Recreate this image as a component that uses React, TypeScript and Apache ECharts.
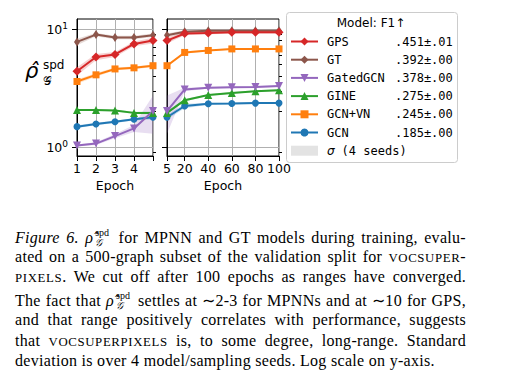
import React, { useEffect, useRef } from 'react';
import * as echarts from 'echarts';

// ---------- data ----------
const MODELS = ['GPS', 'GT', 'GatedGCN', 'GINE', 'GCN+VN', 'GCN'];
const SCORES = ['.451±.01', '.392±.00', '.378±.00', '.275±.00', '.245±.00', '.185±.00'];
const BAND_NAME = 'σ (4 seeds)';

const EPOCHS_EARLY = [1, 2, 3, 4, 5];
const EPOCHS_LATE = [5, 20, 40, 60, 80, 100];

const GPS_EARLY = [4.4, 5.8, 6.1, 7.5, 8.0];
const GPS_LATE = [8.0, 9.2, 9.3, 9.4, 9.4, 9.4];
const GT_EARLY = [7.8, 9.0, 8.5, 8.5, 8.9];
const GT_LATE = [8.9, 9.5, 9.7, 9.7, 9.7, 9.7];
const GATED_EARLY = [1.03, 1.07, 1.24, 1.44, 2.02];
const GATED_LATE = [2.02, 3.08, 3.18, 3.22, 3.24, 3.29];
const GINE_EARLY = [2.06, 2.06, 2.04, 1.95, 1.95];
const GINE_LATE = [1.95, 2.5, 2.76, 2.88, 2.98, 3.04];
const GCNVN_EARLY = [3.6, 4.1, 4.6, 4.7, 4.9];
const GCNVN_LATE = [4.9, 6.35, 6.6, 6.8, 6.8, 6.8];
const GCN_EARLY = [1.49, 1.57, 1.64, 1.72, 1.79];
const GCN_LATE = [1.79, 2.23, 2.33, 2.34, 2.36, 2.36];

const GPS_SD_EARLY = [0.35, 0.35, 0.3, 0.35, 0.45];
const GPS_SD_LATE = [0.45, 0.3, 0.25, 0.25, 0.25, 0.25];
const GT_SD_EARLY = [0.5, 0.3, 0.3, 0.3, 0.3];
const GT_SD_LATE = [0.3, 0.3, 0.2, 0.2, 0.2, 0.2];
const GATED_SD_EARLY = [0.02, 0.03, 0.05, 0.1, 0.72];
const GATED_SD_LATE = [0.72, 0.1, 0.06, 0.05, 0.05, 0.05];
const GINE_SD_EARLY = [0.04, 0.04, 0.04, 0.04, 0.05];
const GINE_SD_LATE = [0.05, 0.06, 0.05, 0.05, 0.05, 0.05];
const GCNVN_SD_EARLY = [0.15, 0.15, 0.12, 0.12, 0.12];
const GCNVN_SD_LATE = [0.12, 0.15, 0.1, 0.1, 0.1, 0.1];
const GCN_SD_EARLY = [0.04, 0.04, 0.04, 0.04, 0.08];
const GCN_SD_LATE = [0.08, 0.1, 0.04, 0.04, 0.04, 0.04];

const MEANS_EARLY = [GPS_EARLY, GT_EARLY, GATED_EARLY, GINE_EARLY, GCNVN_EARLY, GCN_EARLY];
const MEANS_LATE = [GPS_LATE, GT_LATE, GATED_LATE, GINE_LATE, GCNVN_LATE, GCN_LATE];
const SDS_EARLY = [GPS_SD_EARLY, GT_SD_EARLY, GATED_SD_EARLY, GINE_SD_EARLY, GCNVN_SD_EARLY, GCN_SD_EARLY];
const SDS_LATE = [GPS_SD_LATE, GT_SD_LATE, GATED_SD_LATE, GINE_SD_LATE, GCNVN_SD_LATE, GCN_SD_LATE];

const Y_MIN = 0.84;
const Y_MAX = 12.2;
const Y_MAJOR = [1, 10];
const Y_MINOR = [0.9, 2, 3, 4, 5, 6, 7, 8, 9];
const X_TICKS_EARLY = [1, 2, 3, 4, 5];
const X_LABELS_EARLY = [1, 2, 3, 4];
const X_TICKS_LATE = [5, 20, 40, 60, 80, 100];

// ---------- styles ----------
const COLORS = ['#d62728', '#8c564b', '#9467bd', '#2ca02c', '#ff7f0e', '#1f77b4'];
const SYMBOLS: any[] = [
  { symbol: 'diamond', size: [9, 9], rotate: 0 },
  { symbol: 'diamond', size: [6, 9], rotate: 0 },
  { symbol: 'triangle', size: [8, 8], rotate: 180 },
  { symbol: 'triangle', size: [8, 8], rotate: 0 },
  { symbol: 'rect', size: [7, 7], rotate: 0 },
  { symbol: 'circle', size: [7, 7], rotate: 0 },
];
const SANS = "'DejaVu Sans', sans-serif";
const MONO = "'DejaVu Sans Mono', monospace";
const SERIF = "'Liberation Serif', 'Times New Roman', serif";

function hexAlpha(hex: string, a: number) {
  const r = parseInt(hex.slice(1, 3), 16);
  const g = parseInt(hex.slice(3, 5), 16);
  const b = parseInt(hex.slice(5, 7), 16);
  return `rgba(${r},${g},${b},${a})`;
}

function buildOption() {
  const xCommon = (ticks: number[], labels: number[]) => ({
    type: 'value',
    axisLine: { show: true, lineStyle: { color: '#000', width: 1 } },
    axisTick: { show: true, length: 5, customValues: ticks, lineStyle: { color: '#000', width: 1 } },
    axisLabel: { customValues: labels, fontSize: 12.5, color: '#000', fontFamily: SANS, margin: 6 },
    splitLine: { show: true, lineStyle: { color: '#b0b0b0', width: 1 } },
    name: 'Epoch',
    nameLocation: 'middle',
    nameGap: 23,
    nameTextStyle: { fontSize: 12.5, color: '#000', fontFamily: SANS },
  });
  const yMain = (grid: number, showLabels: boolean) => ({
    gridIndex: grid,
    type: 'log',
    logBase: 10,
    min: Y_MIN,
    max: Y_MAX,
    axisLine: { show: true, lineStyle: { color: '#000', width: 1 } },
    axisTick: { show: true, length: 5, customValues: Y_MAJOR, lineStyle: { color: '#000', width: 1 } },
    axisLabel: {
      show: showLabels,
      customValues: Y_MAJOR,
      margin: 9,
      formatter: (v: number) => `{b|10}{s|${Math.round(Math.log10(v))}}`,
      rich: {
        b: { fontSize: 12.5, fontFamily: SANS, color: '#000', lineHeight: 15 },
        s: { fontSize: 9, fontFamily: SANS, color: '#000', lineHeight: 10, verticalAlign: 'top' },
      },
    },
    splitLine: { show: true, lineStyle: { color: '#b0b0b0', width: 1 } },
  });
  const yMinor = (grid: number) => ({
    gridIndex: grid,
    type: 'log',
    logBase: 10,
    min: Y_MIN,
    max: Y_MAX,
    axisLine: { show: false },
    axisTick: { show: true, length: 3, customValues: Y_MINOR, lineStyle: { color: '#000', width: 1 } },
    axisLabel: { show: false },
    splitLine: { show: false },
  });

  const series: any[] = [];
  const panels = [
    { xs: EPOCHS_EARLY, means: MEANS_EARLY, sds: SDS_EARLY, xi: 0, yi: 0 },
    { xs: EPOCHS_LATE, means: MEANS_LATE, sds: SDS_LATE, xi: 1, yi: 2 },
  ];
  panels.forEach((p) => {
    series.push({
      name: BAND_NAME,
      type: 'custom',
      xAxisIndex: p.xi,
      yAxisIndex: p.yi,
      z: 1,
      silent: true,
      clip: true,
      itemStyle: { color: '#e0e0e0' },
      encode: { x: 0, y: 1 },
      data: MODELS.map((_, i) => [p.xs[0], 1, i]),
      renderItem: (params: any, api: any) => {
        const i = api.value(2);
        const m = p.means[i];
        const s = p.sds[i];
        const up = p.xs.map((x, k) => api.coord([x, m[k] + s[k]]));
        const lo = p.xs.map((x, k) => api.coord([x, Math.max(0.5, m[k] - s[k])])).reverse();
        return {
          type: 'polygon',
          shape: { points: up.concat(lo) },
          style: { fill: hexAlpha(COLORS[i], 0.22), stroke: 'none' },
        };
      },
    });
    for (let i = MODELS.length - 1; i >= 0; i--) {
      series.push({
        name: MODELS[i],
        type: 'line',
        xAxisIndex: p.xi,
        yAxisIndex: p.yi,
        z: 3,
        data: p.xs.map((x, k) => [x, p.means[i][k]]),
        symbol: SYMBOLS[i].symbol,
        symbolSize: SYMBOLS[i].size,
        symbolRotate: SYMBOLS[i].rotate,
        showSymbol: true,
        lineStyle: { color: COLORS[i], width: 2 },
        itemStyle: { color: COLORS[i] },
        emphasis: { disabled: true },
      });
    }
  });

  return {
    animation: false,
    grid: [
      { left: 77, top: 19, width: 76, height: 137, show: true, borderColor: '#000', borderWidth: 1, backgroundColor: 'transparent' },
      { left: 167, top: 19, width: 112, height: 137, show: true, borderColor: '#000', borderWidth: 1, backgroundColor: 'transparent' },
    ],
    xAxis: [
      { gridIndex: 0, min: 1, max: 5, ...xCommon(X_TICKS_EARLY, X_LABELS_EARLY) },
      { gridIndex: 1, min: 5, max: 100, ...xCommon(X_TICKS_LATE, X_TICKS_LATE) },
    ],
    yAxis: [yMain(0, true), yMinor(0), yMain(1, false), yMinor(1)],
    legend: {
      orient: 'vertical',
      left: 290,
      top: 35.5,
      padding: 0,
      itemWidth: 27,
      itemHeight: 10,
      itemGap: 6.2,
      selectedMode: false,
      data: [
        ...MODELS,
        { name: BAND_NAME, icon: 'rect', itemStyle: { color: '#e3e3e3' } },
      ],
      formatter: (name: string) => {
        const i = MODELS.indexOf(name);
        if (i < 0) return `{g| }{sg|σ}{gap| }{v|(4 seeds)}`;
        return `{g| }{n|${name}}{v|${SCORES[i]}}`;
      },
      textStyle: {
        fontFamily: MONO,
        fontSize: 12,
        color: '#000',
        lineHeight: 12,
        rich: {
          g: { width: 4, fontSize: 12, lineHeight: 12 },
          n: { width: 68, fontFamily: MONO, fontSize: 12, color: '#000', lineHeight: 12 },
          v: { fontFamily: MONO, fontSize: 12, color: '#000', lineHeight: 12 },
          sg: { fontFamily: SANS, fontStyle: 'italic', fontSize: 12, color: '#000', lineHeight: 12 },
          gap: { width: 7, fontSize: 12, lineHeight: 12 },
        },
      },
    },
    graphic: [
      {
        type: 'rect',
        z: 0,
        silent: true,
        shape: { x: 286.5, y: 12.5, width: 171, height: 150, r: 3 },
        style: { fill: 'rgba(255,255,255,0.8)', stroke: '#cccccc', lineWidth: 1 },
      },
      {
        type: 'text',
        z: 5,
        x: 371,
        y: 23,
        style: { text: 'Model: F1↑', fontFamily: SANS, fontSize: 12, fill: '#000', align: 'center', verticalAlign: 'middle' },
      },
      {
        type: 'text',
        x: 25,
        y: 71,
        style: { text: 'ρ̂', fontFamily: SANS, fontStyle: 'italic', fontSize: 21, fill: '#000', verticalAlign: 'middle' },
      },
      {
        type: 'text',
        x: 43,
        y: 64.5,
        style: { text: 'spd', fontFamily: SANS, fontSize: 12, fill: '#000', verticalAlign: 'middle' },
      },
      {
        type: 'text',
        x: 43,
        y: 81,
        style: { text: '𝒢', fontFamily: SANS, fontSize: 12, fill: '#000', verticalAlign: 'middle' },
      },
    ],
    series,
  };
}

const SC = ({ children }: { children: any }) => (
  <span style={{ fontSize: '0.8em', letterSpacing: '0.05em' }}>{children}</span>
);

const Rho = () => (
  <span style={{ whiteSpace: 'nowrap' }}>
    <span style={{ fontStyle: 'italic' }}>ρ̂</span>
    <span style={{ display: 'inline-block', position: 'relative', width: 19, height: 16 }}>
      <span style={{ position: 'absolute', left: 2, top: 1, fontSize: 10, lineHeight: '9px', letterSpacing: 0 }}>spd</span>
      <span style={{ position: 'absolute', left: 2, top: 11, fontSize: 10, lineHeight: '9px', fontStyle: 'italic', letterSpacing: 0 }}>𝒢</span>
    </span>
  </span>
);

const Caption = () => {
  const tops = [227, 247, 267, 289.5, 310, 330.5, 350.5];
  const base: any = {
    position: 'absolute',
    left: 15,
    width: 451,
    fontFamily: SERIF,
    fontSize: 16,
    lineHeight: '20px',
    letterSpacing: 0.3,
    color: '#000',
    textAlign: 'justify',
    textAlignLast: 'justify',
  };
  const last: any = { ...base, textAlign: 'left', textAlignLast: 'left', width: 'auto', whiteSpace: 'nowrap' };
  return (
    <>
      <div style={{ ...base, top: tops[0] }}>
        <i>Figure 6.</i>{'  '}<Rho /> for MPNN and GT models during training, evalu-
      </div>
      <div style={{ ...base, top: tops[1] }}>
        ated on a 500-graph subset of the validation split for <SC>VOCSUPER</SC>-
      </div>
      <div style={{ ...base, top: tops[2] }}>
        <SC>PIXELS</SC>. We cut off after 100 epochs as ranges have converged.
      </div>
      <div style={{ ...base, top: tops[3] }}>
        The fact that <Rho /> settles at ∼2-3 for MPNNs and at ∼10 for GPS,
      </div>
      <div style={{ ...base, top: tops[4] }}>
        and that range positively correlates with performance, suggests
      </div>
      <div style={{ ...base, top: tops[5] }}>
        that <SC>VOCSUPERPIXELS</SC> is, to some degree, long-range. Standard
      </div>
      <div style={{ ...last, top: tops[6] }}>
        deviation is over 4 model/sampling seeds. Log scale on y-axis.
      </div>
    </>
  );
};

export default function App() {
  const ref = useRef<HTMLDivElement>(null);
  useEffect(() => {
    if (!ref.current) return;
    const chart = echarts.init(ref.current, undefined, { renderer: 'svg' });
    chart.setOption(buildOption() as any);
    return () => chart.dispose();
  }, []);
  return (
    <div style={{ position: 'fixed', left: 0, top: 0, width: 509, height: 390, background: '#fff', overflow: 'hidden' }}>
      <div ref={ref} style={{ position: 'absolute', left: 0, top: 0, width: 509, height: 390 }} />
      <Caption />
    </div>
  );
}
